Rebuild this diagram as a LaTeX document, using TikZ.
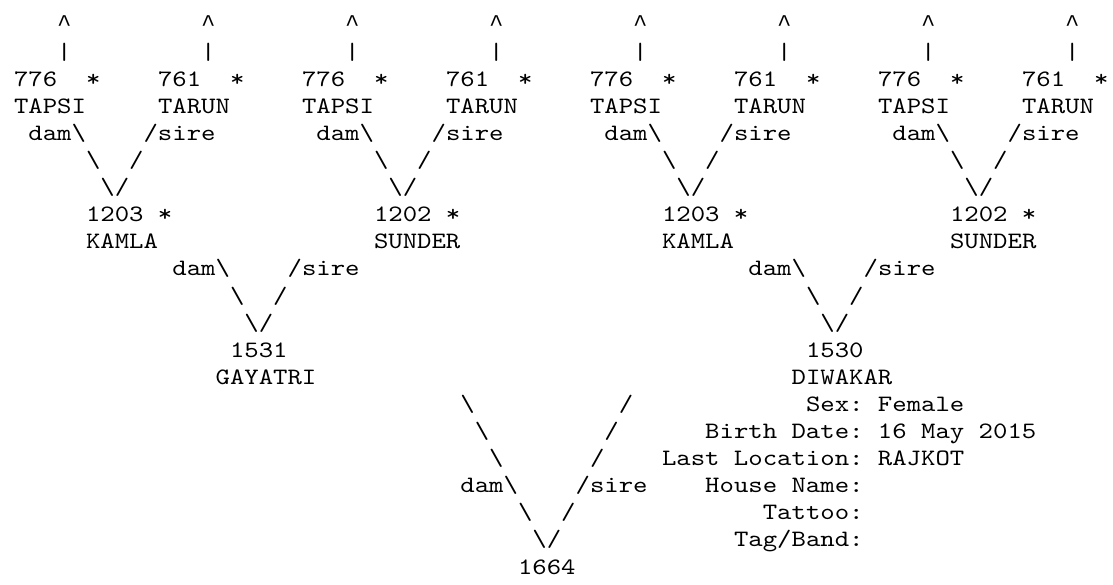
\documentclass[tikz,border=0pt]{standalone}
\usepackage{fontspec}
\newfontfamily\pedmono[FakeStretch=1.167]{lmmono10-regular.otf}
\newfontfamily\caretfont{Liberation Mono}
\frenchspacing
\tikzset{
  t/.style={anchor=base west, inner sep=0pt, outer sep=0pt,
    font=\pedmono\fontsize{23.5}{27}\selectfont\frenchspacing, text=black}
}
\newcommand\bs{\textbackslash}
\newcommand\caret{{\caretfont\fontsize{24}{27}\selectfont\textasciicircum}}
% name, column, row, text
\newcommand\Tx[4]{\node[t] (#1) at ({14+14.4*(#2)},{-32-27.1*(#3)}) {#4};}
\begin{document}
\begin{tikzpicture}[x=1pt,y=1pt]
\useasboundingbox (0,0) rectangle (1113,-585);
% ---- great-grandparents (four identical units)
\foreach \u/\k in {0/a,20/b,40/c,60/d}{
  \Tx{upL\k}{\u+3}{0}{\caret}
  \Tx{upR\k}{\u+13}{0}{\caret}
  \Tx{barL\k}{\u+3}{1}{|}
  \Tx{barR\k}{\u+13}{1}{|}
  \Tx{idL\k}{\u}{2}{776}
  \Tx{stL\k}{\u+5}{2}{*}
  \Tx{idR\k}{\u+10}{2}{761}
  \Tx{stR\k}{\u+15}{2}{*}
  \Tx{nmL\k}{\u}{3}{TAPSI}
  \Tx{nmR\k}{\u+10}{3}{TARUN}
  \Tx{dam\k}{\u+1}{4}{dam\bs}
  \Tx{sire\k}{\u+9}{4}{/sire}
  \Tx{bsA\k}{\u+5}{5}{\bs}
  \Tx{slA\k}{\u+8}{5}{/}
  \Tx{vee\k}{\u+6}{6}{\bs/}
}
% ---- grandparents
\foreach \v/\k in {0/a,40/b}{
  \Tx{gdid\k}{\v+5}{7}{1203 *}
  \Tx{gdnm\k}{\v+5}{8}{KAMLA}
  \Tx{gsid\k}{\v+25}{7}{1202 *}
  \Tx{gsnm\k}{\v+25}{8}{SUNDER}
  \Tx{gdam\k}{\v+11}{9}{dam\bs}
  \Tx{gsire\k}{\v+19}{9}{/sire}
  \Tx{gbs\k}{\v+15}{10}{\bs}
  \Tx{gsl\k}{\v+18}{10}{/}
  \Tx{gvee\k}{\v+16}{11}{\bs/}
}
% ---- parents
\Tx{damid}{15}{12}{1531}
\Tx{damnm}{14}{13}{GAYATRI}
\Tx{sireid}{55}{12}{1530}
\Tx{sirenm}{54}{13}{DIWAKAR}
% ---- bottom V
\Tx{b1}{31}{14}{\bs}
\Tx{s1}{42}{14}{/}
\Tx{b2}{32}{15}{\bs}
\Tx{s2}{41}{15}{/}
\Tx{b3}{33}{16}{\bs}
\Tx{s3}{40}{16}{/}
\Tx{bdam}{31}{17}{dam\bs}
\Tx{bsire}{39}{17}{/sire}
\Tx{b5}{35}{18}{\bs}
\Tx{s5}{38}{18}{/}
\Tx{bvee}{36}{19}{\bs/}
\Tx{animal}{35}{20}{1664}
% ---- details
\Tx{sex}{55}{14}{Sex: Female}
\Tx{birth}{48}{15}{Birth Date: 16 May 2015}
\Tx{loc}{45}{16}{Last Location: RAJKOT}
\Tx{house}{48}{17}{House Name:}
\Tx{tattoo}{52}{18}{Tattoo:}
\Tx{tag}{50}{19}{Tag/Band:}
\end{tikzpicture}
\end{document}
